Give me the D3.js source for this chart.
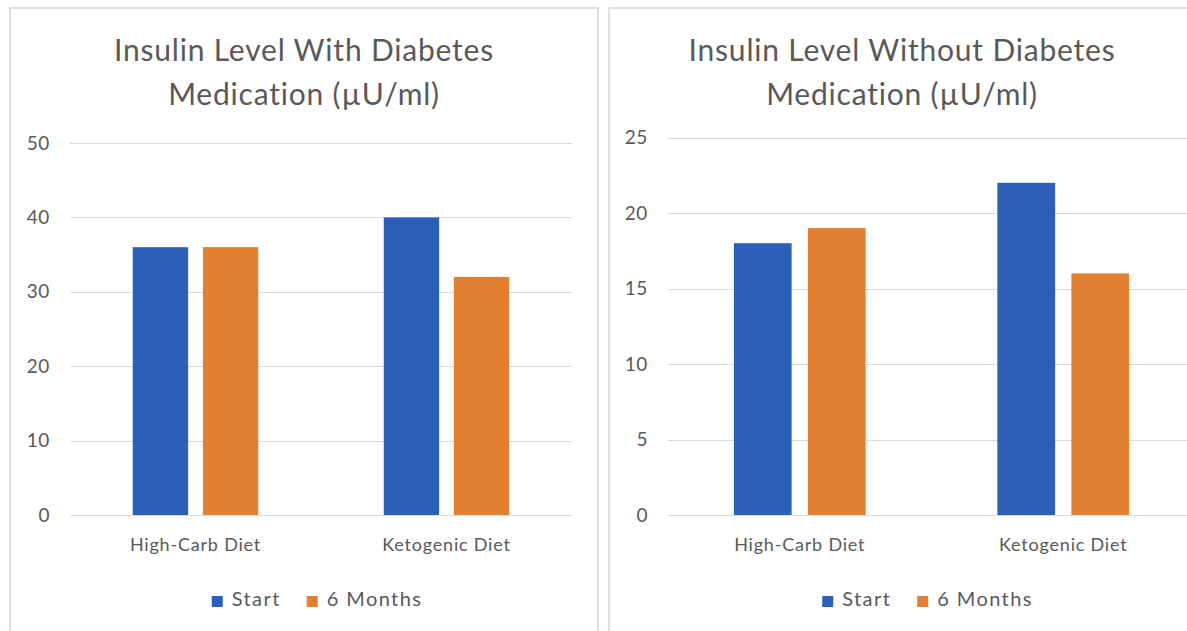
<!DOCTYPE html>
<html>
<head>
<meta charset="utf-8">
<script src="https://cdn.jsdelivr.net/npm/d3@7"></script>
<style>
  html, body { margin: 0; padding: 0; background: #fff; }
  svg { display: block; }
  text { font-family: Lato, "Open Sans", sans-serif; fill: #595959; }
</style>
</head>
<body>
<svg id="chart" width="1187" height="631"></svg>
<script>
// Diet groups and the two measurement times
const categories = ["High-Carb Diet", "Ketogenic Diet"];
const seriesNames = ["Start", "6 Months"];
const seriesColors = ["#2C5FB8", "#E27F31"];

// Insulin (µU/ml), patients on diabetes medication
const withMedStart = [36, 40];
const withMedSixMonths = [36, 32];
const withMedTicks = [0, 10, 20, 30, 40, 50];

// Insulin (µU/ml), patients without diabetes medication
const withoutMedStart = [18, 22];
const withoutMedSixMonths = [19, 16];
const withoutMedTicks = [0, 5, 10, 15, 20, 25];

const svg = d3.select("#chart");
const FONT = "Lato, 'Open Sans', sans-serif";

const panels = [
  {
    titleLines: ["Insulin Level With Diabetes", "Medication (µU/ml)"],
    start: withMedStart, six: withMedSixMonths, ticks: withMedTicks,
    box: { x: 10, y: 8, w: 588, h: 640 },
    plot: { left: 70, right: 572, top: 143, bottom: 515 },
    labelX: 50, gridRight: 572, inner: 0.21
  },
  {
    titleLines: ["Insulin Level Without Diabetes", "Medication (µU/ml)"],
    start: withoutMedStart, six: withoutMedSixMonths, ticks: withoutMedTicks,
    box: { x: 609, y: 8, w: 586, h: 640 },
    plot: { left: 668, right: 1195, top: 137.5, bottom: 515 },
    labelX: 648, gridRight: 1195, inner: 0.22
  }
];

panels.forEach(p => {
  const g = svg.append("g");

  // chart-area frame
  g.append("rect")
    .attr("x", p.box.x).attr("y", p.box.y)
    .attr("width", p.box.w).attr("height", p.box.h)
    .attr("fill", "#fff").attr("stroke", "#d6d6d6").attr("stroke-width", 1.5);

  // title
  const cx = p.box.x + p.box.w / 2;
  g.append("text")
    .attr("x", cx).attr("text-anchor", "middle")
    .attr("font-size", 30)
    .attr("letter-spacing", 0.8)
    .selectAll("tspan").data(p.titleLines).join("tspan")
    .attr("x", cx)
    .attr("y", (d, i) => 61 + i * 44)
    .text(d => d);

  const y = d3.scaleLinear()
    .domain([0, d3.max(p.ticks)])
    .range([p.plot.bottom, p.plot.top]);

  const x0 = d3.scaleBand()
    .domain(categories)
    .range([p.plot.left, p.plot.right])
    .paddingInner(0).paddingOuter(0);

  const x1 = d3.scaleBand()
    .domain(seriesNames)
    .range([x0.bandwidth() * 0.25, x0.bandwidth() * 0.75])
    .paddingInner(p.inner).paddingOuter(0);

  // gridlines
  g.append("g")
    .selectAll("line").data(p.ticks).join("line")
    .attr("x1", p.plot.left).attr("x2", p.gridRight)
    .attr("y1", d => Math.round(y(d)) + 0.5).attr("y2", d => Math.round(y(d)) + 0.5)
    .attr("stroke", "#d9d9d9").attr("stroke-width", 1.2);

  // value-axis labels
  const yAxis = d3.axisLeft(y).tickValues(p.ticks).tickSize(0).tickPadding(0);
  const ya = g.append("g")
    .attr("transform", `translate(${p.labelX},0)`)
    .call(yAxis);
  ya.select(".domain").remove();
  ya.selectAll("text")
    .attr("font-size", 19)
    .attr("letter-spacing", 0.6)
    .attr("fill", "#595959")
    .attr("font-family", FONT);

  // bars
  const rows = categories.map((c, i) => ({ cat: c, vals: [p.start[i], p.six[i]] }));
  g.append("g")
    .selectAll("g").data(rows).join("g")
    .attr("transform", d => `translate(${x0(d.cat)},0)`)
    .selectAll("rect").data(d => d.vals.map((v, i) => ({ key: seriesNames[i], v, i })))
    .join("rect")
    .attr("x", d => x1(d.key))
    .attr("width", x1.bandwidth())
    .attr("y", d => y(d.v))
    .attr("height", d => y(0) - y(d.v))
    .attr("fill", d => seriesColors[d.i]);

  // category labels
  const xAxis = d3.axisBottom(x0).tickSize(0).tickPadding(0);
  const xa = g.append("g")
    .attr("transform", `translate(0,${p.plot.bottom + 23})`)
    .call(xAxis);
  xa.select(".domain").remove();
  xa.selectAll("text")
    .attr("font-size", 18)
    .attr("letter-spacing", 0.8)
    .attr("fill", "#595959")
    .attr("font-family", FONT);

  // legend, centered under the plot area
  const leg = g.append("g");
  const items = leg.selectAll("g").data(seriesNames).join("g");
  items.append("rect")
    .attr("width", 11).attr("height", 11)
    .attr("y", -10)
    .attr("fill", (d, i) => seriesColors[i]);
  items.append("text")
    .attr("x", 20).attr("y", 0)
    .attr("font-size", 20)
    .attr("letter-spacing", 1.4)
    .text(d => d);
  let off = 0;
  items.each(function () {
    const w = this.getBBox().width;
    d3.select(this).attr("transform", `translate(${off},0)`);
    off += w + 26;
  });
  const total = off - 26;
  const lcx = (p.plot.left + p.plot.right) / 2 - 4;
  leg.attr("transform", `translate(${lcx - total / 2},606)`);
});
</script>
</body>
</html>
